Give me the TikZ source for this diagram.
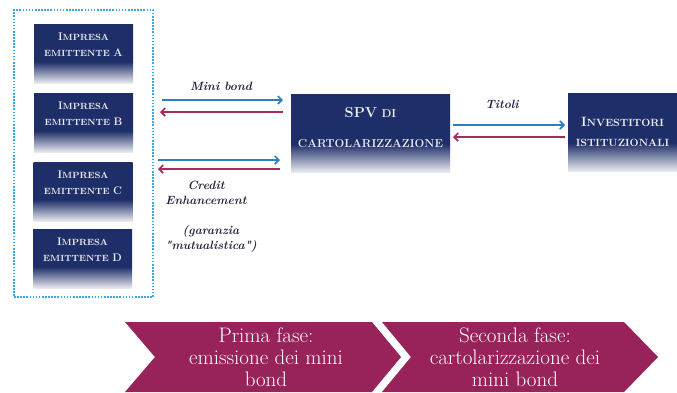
\documentclass[tikz,border=0pt]{standalone}
\usetikzlibrary{arrows.meta}
\definecolor{navy}{RGB}{30,46,104}
\colorlet{fadebot}{white!90!navy}
\definecolor{arrblue}{RGB}{46,128,196}
\definecolor{arrpink}{RGB}{168,42,92}
\definecolor{berry}{RGB}{152,34,90}
\definecolor{dotblue}{RGB}{58,170,226}
\definecolor{lbl}{RGB}{38,38,64}
\definecolor{boxtxt}{RGB}{236,236,242}
\pgfdeclareverticalshading{boxfade}{100bp}{color(0bp)=(white); color(25bp)=(fadebot); color(43bp)=(navy); color(100bp)=(navy)}
\newcommand\Bg[2][11]{{\fontsize{#1}{14}\selectfont #2}}
\begin{document}
\begin{tikzpicture}[x=1pt,y=-1pt,
  fadebox/.style={shade,shading=boxfade,inner sep=0pt,outer sep=0pt},
  imp/.style={fadebox,minimum width=99pt,minimum height=59pt},
  imptxt/.style={text=boxtxt,align=center,inner sep=0pt,font=\fontsize{9}{16}\selectfont\bfseries},
  bigtxt/.style={text=boxtxt,align=center,inner sep=0pt},
  barr/.style={draw=arrblue,line width=1.7pt,-{Straight Barb[length=4pt,width=8pt]}},
  parr/.style={draw=arrpink,line width=1.7pt,-{Straight Barb[length=4pt,width=8pt]}},
  lab/.style={text=lbl,align=center,inner sep=0pt,font=\fontsize{12}{15}\selectfont\bfseries\itshape},
  chev/.style={fill=berry},
  chtxt/.style={text=white,align=center,inner sep=0pt,font=\fontsize{21}{22}\selectfont}]
\useasboundingbox (0,0) rectangle (677,392);
\fill[white] (0,0) rectangle (677,392);
% group of issuers
\node[draw=dotblue,line width=1.7pt,dash pattern=on 1.6pt off 1.5pt,minimum width=139pt,minimum height=287pt,inner sep=0pt] (grp) at (83.5,153.5) {};
\node[imp] (A) at (83.5,53.5) {};
\node[imp] (B) at (83.5,122.5) {};
\node[imp] (C) at (83,191.5) {};
\node[imp] (D) at (82.5,258.5) {};
\node[imptxt] (tA) at (83.5,45) {\Bg{I}MPRESA\\EMITTENTE \Bg{A}};
\node[imptxt] (tB) at (83.5,114) {\Bg{I}MPRESA\\EMITTENTE \Bg{B}};
\node[imptxt] (tC) at (83,183) {\Bg{I}MPRESA\\EMITTENTE \Bg{C}};
\node[imptxt] (tD) at (82.5,250) {\Bg{I}MPRESA\\EMITTENTE \Bg{D}};
% SPV and investors
\node[fadebox,minimum width=159pt,minimum height=78pt] (spv) at (370.5,133) {};
\node[bigtxt,font=\fontsize{11.5}{30}\selectfont\bfseries] (tspv) at (370.5,128) {\Bg[14.5]{SPV} DI\\CARTOLARIZZAZIONE};
\node[fadebox,minimum width=109pt,minimum height=78pt] (inv) at (622.5,132) {};
\node[bigtxt,font=\fontsize{10.5}{20}\selectfont\bfseries] (tinv) at (622.5,132) {\Bg[13.5]{I}NVESTITORI\\ISTITUZIONALI};
% arrow end points
\coordinate (m1a) at (162,100); \coordinate (m1b) at (283,100);
\coordinate (m2a) at (160,112); \coordinate (m2b) at (283,112);
\coordinate (c1a) at (158,160); \coordinate (c1b) at (280,160);
\coordinate (c2a) at (158,169); \coordinate (c2b) at (280,169);
\coordinate (t1a) at (453,125); \coordinate (t1b) at (565,125);
\coordinate (t2a) at (453,137); \coordinate (t2b) at (565,137);
\draw[barr] (m1a) -- (m1b);
\draw[parr] (m2b) -- (m2a);
\draw[barr] (c1a) -- (c1b);
\draw[parr] (c2b) -- (c2a);
\draw[barr] (t1a) -- (t1b);
\draw[parr] (t2b) -- (t2a);
% labels
\node[lab] (lmb) at (221,86) {Mini bond};
\node[lab] (ltit) at (502,104) {Titoli};
\node[lab] (lce) at (206,192.5) {Credit\\Enhancement};
\node[lab] (lgm) at (211,238.5) {(garanzia\\\textquotedbl mutualistica\textquotedbl)};
% phases
\fill[chev] (125,322) -- (372,322) -- (401,357) -- (372,392) -- (125,392) -- (155,357) -- cycle;
\fill[chev] (382,322) -- (624,322) -- (658,357) -- (624,392) -- (382,392) -- (411,357) -- cycle;
\node[chtxt] (p1) at (266,357) {Prima fase:\\emissione dei mini\\bond};
\node[chtxt] (p2) at (515,357) {Seconda fase:\\cartolarizzazione dei\\mini bond};
\end{tikzpicture}
\end{document}
